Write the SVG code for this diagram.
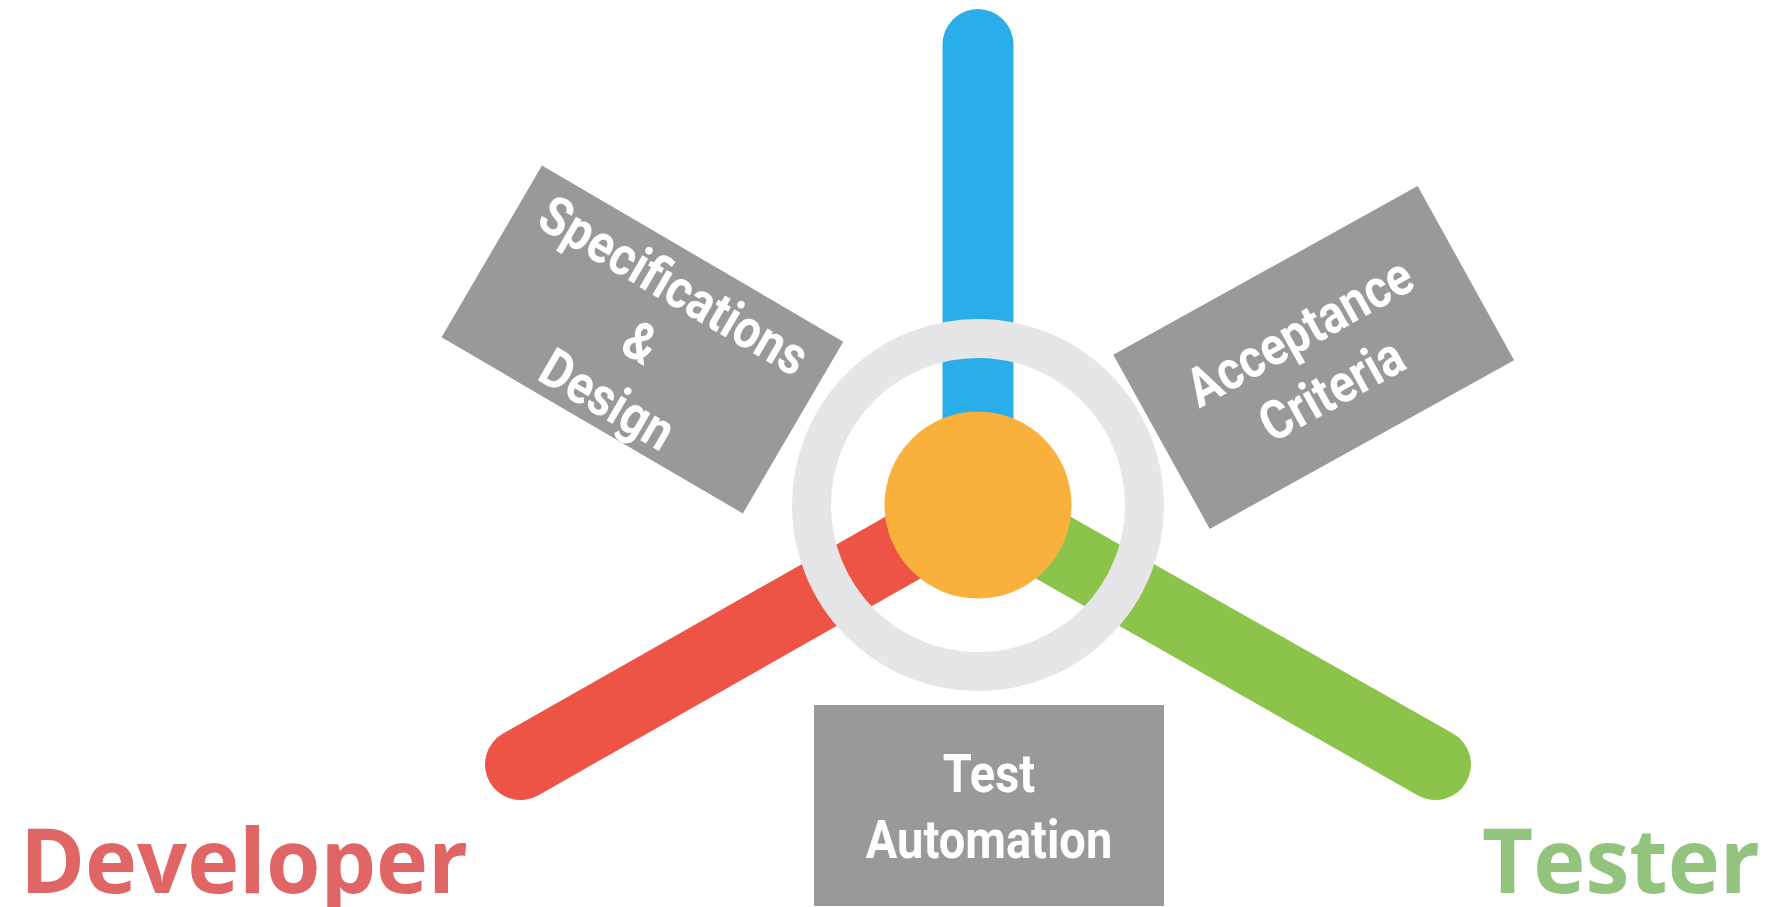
<svg xmlns="http://www.w3.org/2000/svg" width="1765" height="907" viewBox="0 0 1765 907">
<style>
.box{fill:#999999}
.lbl{font-family:Roboto,"Liberation Sans",sans-serif;font-weight:700;font-size:54px;fill:#ffffff;text-anchor:middle}
.spoke{fill:none;stroke-width:71;stroke-linecap:round}
.role{font-family:"Open Sans","Liberation Sans",sans-serif;font-weight:700;font-size:90px}
</style>
<rect width="1765" height="907" fill="#ffffff"/>
<g id="connectors">
<line class="spoke" x1="978" y1="505" x2="978" y2="44.5" stroke="#2aaeea"/>
<line class="spoke" x1="978" y1="505" x2="520.5" y2="764.5" stroke="#ee5445"/>
<line class="spoke" x1="978" y1="505" x2="1435.5" y2="764.5" stroke="#8cc34a"/>
</g>
<g id="hub">
<circle cx="978" cy="505" r="166.5" fill="none" stroke="#e6e6e8" stroke-width="39"/>
<circle cx="978" cy="505" r="93.5" fill="#f9b03d"/>
</g>
<g id="spec" transform="translate(642.4,339.5) rotate(30.3)">
<rect class="box" x="-174.5" y="-99.5" width="349" height="199"/>
<g transform="scale(0.87,1)">
<text class="lbl" x="0" y="-44">Specifications</text>
<text class="lbl" x="0" y="22">&amp;</text>
<text class="lbl" x="0" y="88">Design</text>
</g>
</g>
<g id="acceptance" transform="translate(1313.7,357.5) rotate(-29)">
<rect class="box" x="-174" y="-99.5" width="348" height="199"/>
<g transform="scale(0.87,1)">
<text class="lbl" x="0" y="-11">Acceptance</text>
<text class="lbl" x="0" y="55">Criteria</text>
</g>
</g>
<g id="automation">
<rect class="box" x="814" y="705" width="350" height="201"/>
<g transform="translate(989,0) scale(0.87,1)">
<text class="lbl" x="0" y="792">Test</text>
<text class="lbl" x="0" y="858">Automation</text>
</g>
</g>
<g id="developer">
<text class="role" x="20" y="893" fill="#e06666" textLength="448" lengthAdjust="spacingAndGlyphs">Developer</text>
</g>
<g id="tester">
<text class="role" x="1482" y="893" fill="#93c47d" textLength="278" lengthAdjust="spacingAndGlyphs">Tester</text>
</g>
</svg>
